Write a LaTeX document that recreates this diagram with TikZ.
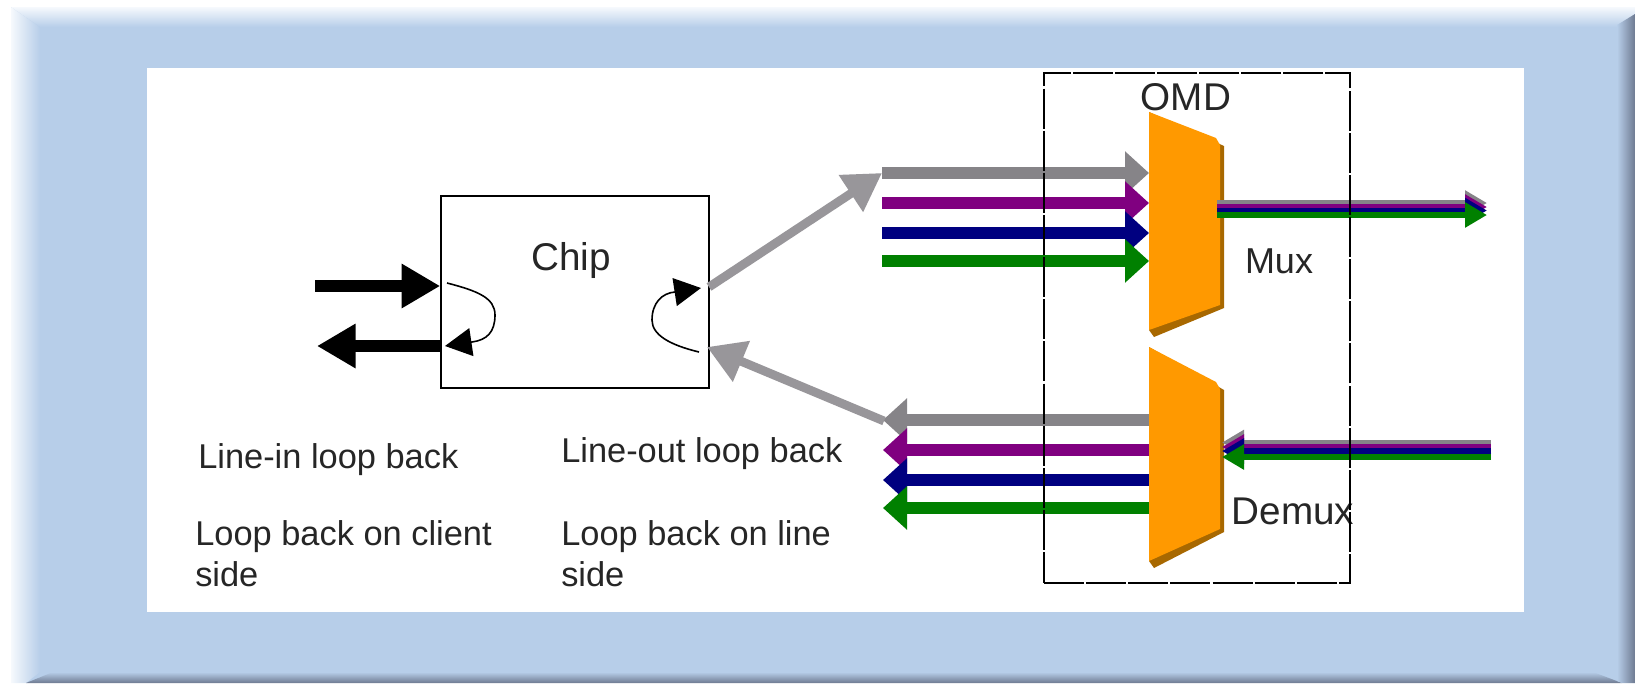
\documentclass[tikz,border=0pt]{standalone}
\usepackage{fontspec}
\setmainfont{Liberation Sans}
\usetikzlibrary{arrows.meta,calc}
\definecolor{panel}{RGB}{183,206,233}
\definecolor{panellight}{RGB}{246,249,253}
\definecolor{paneldark}{RGB}{110,122,145}
\definecolor{wavegrey}{RGB}{134,132,136}
\definecolor{diaggrey}{RGB}{152,150,154}
\definecolor{wavepurple}{RGB}{128,0,128}
\definecolor{wavenavy}{RGB}{0,0,128}
\definecolor{wavegreen}{RGB}{0,128,0}
\definecolor{orangebody}{RGB}{255,153,0}
\definecolor{orangeedge}{RGB}{168,104,0}
\tikzset{%
  label/.style={font=\fontsize{25.8}{30.75}\selectfont, text=black!85, inner sep=0pt, align=left},
  biglabel/.style={label, font=\fontsize{29}{33}\selectfont},
  wdm/.style={line width=9pt, -{Triangle[length=18pt,width=31.5pt]}},% single wavelength
  trunk/.style={line width=4.5pt, -{Triangle[length=16.5pt,width=18pt]}},% muxed line
  diag/.style={diaggrey, line width=6.6pt, -{Triangle[length=28pt,width=31.5pt]}},% chip to omd
  client/.style={black, line width=9pt, -{Triangle[length=29pt,width=31.5pt]}},% client side
  loopline/.style={black, line width=1.2pt, -{Triangle[length=20pt,width=21pt]}},% loop back
  wedge/.style={inner sep=0pt, outer sep=0pt, minimum width=56.25pt}
}
\newcommand*{\wedgebody}[3]{
  \fill[orangeedge] (#1.north west) -- ($(#1.north east)+(0,#2+8)$) -- ($(#1.south east)+(0,-#3)$)
    -- ($(#1.south west)+(5,0)$) -- ($(#1.south west)+(0,-7)$) -- cycle;
  \fill[orangebody] (#1.north west) -- ($(#1.north east)+(-8,#2)$) -- ($(#1.north east)+(-4,#2+7)$)
    -- ($(#1.south east)+(-4,-#3-3)$) -- ($(#1.south west)+(0,-7)$) -- cycle;
}
\begin{document}
\begin{tikzpicture}[x=0.75pt,y=-0.75pt]
\useasboundingbox (0,0) rectangle (1635,683);

% frame
\fill[panel] (11,7) rectangle (1635,683);
\shade[left color=panellight, right color=panel] (11,7) -- (40,27) -- (40,672) -- (26,683) -- (11,683) -- cycle;
\shade[top color=panellight, bottom color=panel] (11,7) -- (1635,7) -- (1635,14) -- (1617,27) -- (40,27) -- cycle;
\shade[top color=panel, bottom color=paneldark] (26,683) -- (53,672) -- (1593,672) -- (1622,683) -- cycle;
\shade[left color=panel, right color=paneldark] (1617,25) -- (1635,14) -- (1635,683) -- (1622,683) -- (1617,681) -- cycle;
\fill[white] (147,68) rectangle (1524,612);

\node[wedge, minimum height=168.75pt] (mux) at (1186.5,224.5) {};
\node[wedge, minimum height=165.75pt] (demux) at (1186.5,457.5) {};
\wedgebody{mux}{26}{29}
\wedgebody{demux}{35}{36}

\node[draw, line width=1.2pt, inner sep=0pt, minimum width=201pt, minimum height=144pt] (chip) at (575,292) {};
\node[biglabel] (chiplabel) at (571,260) {Chip};
\node[label, font=\fontsize{27}{31}\selectfont] (muxlabel) at (1279,261) {Mux};
\node[biglabel] (demuxlabel) at (1293,511) {Demux};

\node[label, anchor=west] (linein) at (198,460) {Line-in loop back};
\node[label, anchor=west] (clientside) at (195,554) {Loop back on client\\side};
\node[label, anchor=west] (lineout) at (561,454) {Line-out loop back};
\node[label, anchor=west] (lineside) at (561,554) {Loop back on line\\side};

% client side
\coordinate (clientin) at (315,286);
\coordinate (clientout) at (317,346);
\draw[client] (clientin) -- (chip.west |- clientin);
\draw[client] (chip.west |- clientout) -- (clientout);

\coordinate (loopa) at (447,283);
\coordinate (loopb) at (445,346);
\coordinate (loopc) at (699,352);
\coordinate (loopd) at (701,288);
\draw[loopline] (loopa) .. controls (478,291) and (495,298) .. (495,315)
  .. controls (495,332) and (487,340) .. (472,342) -- (loopb);
\draw[loopline] (loopc) .. controls (670,345) and (652,335) .. (652,320)
  .. controls (652,303) and (662,293) .. (675,292) -- (loopd);

% line side, towards mux
\coordinate (greyin) at (882,173);
\coordinate (purplein) at (882,203);
\coordinate (navyin) at (882,233);
\coordinate (greenin) at (882,261);
\draw[wdm, wavegrey] (greyin) -- (mux.west |- greyin);
\draw[wdm, wavepurple] (purplein) -- (mux.west |- purplein);
\draw[wdm, wavenavy] (navyin) -- (mux.west |- navyin);
\draw[wdm, wavegreen] (greenin) -- (mux.west |- greenin);

\coordinate (muxout) at (1487,203);
\draw[trunk, wavegrey] (1217,203) -- (muxout);
\draw[trunk, wavepurple] (1217,207) -- (1487,207);
\draw[trunk, wavenavy] (1217,210.5) -- (1487,210.5);
\draw[trunk, wavegreen] (1217,215) -- (1487,215);

% line side, from demux
\coordinate (greyout) at (883,420);
\coordinate (purpleout) at (883,450);
\coordinate (navyout) at (883,480);
\coordinate (greenout) at (883,508);
\draw[wdm, wavegrey] (demux.west |- greyout) -- (greyout);
\draw[wdm, wavepurple] (demux.west |- purpleout) -- (purpleout);
\draw[wdm, wavenavy] (demux.west |- navyout) -- (navyout);
\draw[wdm, wavegreen] (demux.west |- greenout) -- (greenout);

\coordinate (demuxin) at (1491,442.5);
\draw[trunk, wavegrey] (demuxin) -- (1222,442.5);
\draw[trunk, wavepurple] (1491,447) -- (1222,447);
\draw[trunk, wavenavy] (1491,451) -- (1222,451);
\draw[trunk, wavegreen] (1491,457) -- (1222,457);

\coordinate (chipout) at (709,287);
\coordinate (chipin) at (707,347);
\draw[diag] (chipout) -- (greyin);
\draw[diag] (884,421) -- (chipin);

\node[draw, dash pattern=on 30pt off 1.6pt, line width=1.2pt, inner sep=0pt, minimum width=229.5pt, minimum height=382.5pt] (omd) at (1197,328) {};
\node[biglabel] (omdlabel) at (1186,97) {OMD};

\end{tikzpicture}
\end{document}
